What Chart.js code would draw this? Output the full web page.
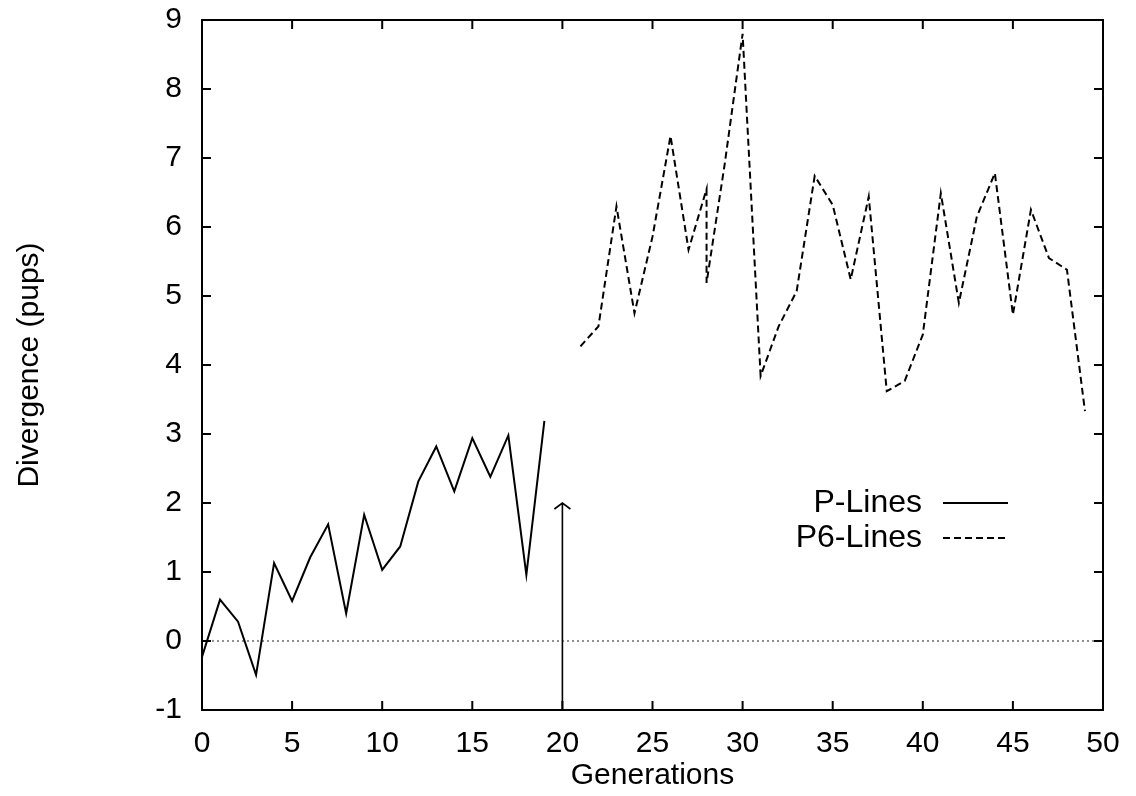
<!doctype html>
<html>
<head>
	<title>Divergence over generations</title>
	<script src="https://cdn.jsdelivr.net/npm/chart.js@4"></script>
	<style>
	body { margin: 0; background: #fff; }
	</style>
</head>
<body>
	<canvas id="canvas" width="1136" height="796"></canvas>
	<script>
		// values
		var pGen = [0, 1, 2, 3, 4, 5, 6, 7, 8, 9, 10, 11, 12, 13, 14, 15, 16, 17, 18, 19];
		var pVal = [-0.23, 0.60, 0.28, -0.49, 1.13, 0.58, 1.21, 1.69, 0.40, 1.83, 1.03, 1.37, 2.31, 2.82, 2.17, 2.94, 2.38, 2.98, 0.96, 3.19];
		var p6Gen = [21, 22, 23, 24, 25, 26, 27, 28, 28, 29, 30, 31, 32, 33, 34, 35, 36, 37, 38, 39, 40, 41, 42, 43, 44, 45, 46, 47, 48, 49];
		var p6Val = [4.27, 4.56, 6.30, 4.75, 5.86, 7.32, 5.67, 6.55, 5.19, 6.90, 8.80, 3.84, 4.56, 5.07, 6.74, 6.32, 5.24, 6.44, 3.62, 3.77, 4.44, 6.49, 4.90, 6.15, 6.78, 4.73, 6.25, 5.55, 5.38, 3.33];
		var zeroLine = [0, 50];
		var arrowGen = 20, arrowFrom = -1, arrowTo = 2;
		var legendNames = ['P-Lines', 'P6-Lines'];

		var FONT = '"Liberation Sans", Arial, sans-serif';

		function points(xs, ys) {
			return xs.map(function(x, i) { return {x: x, y: ys[i]}; });
		}

		// gnuplot-like frame, inward ticks, arrow and key
		var gnuFrame = {
			id: 'gnuFrame',
			afterDatasetsDraw: function(chart) {
				var ctx = chart.ctx, a = chart.chartArea;
				var xs = chart.scales.x, ys = chart.scales.y;
				var tl = 9;
				ctx.save();
				ctx.strokeStyle = '#000';
				ctx.lineWidth = 2;
				ctx.strokeRect(a.left, a.top, a.right - a.left, a.bottom - a.top);
				ctx.beginPath();
				xs.ticks.forEach(function(t) {
					var px = xs.getPixelForValue(t.value);
					ctx.moveTo(px, a.bottom); ctx.lineTo(px, a.bottom - tl);
					ctx.moveTo(px, a.top); ctx.lineTo(px, a.top + tl);
				});
				ys.ticks.forEach(function(t) {
					var py = ys.getPixelForValue(t.value);
					ctx.moveTo(a.left, py); ctx.lineTo(a.left + tl, py);
					ctx.moveTo(a.right, py); ctx.lineTo(a.right - tl, py);
				});
				ctx.stroke();

				// arrow at generation 20
				var ax = xs.getPixelForValue(arrowGen);
				var ay0 = ys.getPixelForValue(arrowFrom);
				var ay1 = ys.getPixelForValue(arrowTo);
				ctx.lineWidth = 1.6;
				ctx.beginPath();
				ctx.moveTo(ax, ay0); ctx.lineTo(ax, ay1);
				ctx.moveTo(ax - 8, ay1 + 6); ctx.lineTo(ax, ay1); ctx.lineTo(ax + 8, ay1 + 6);
				ctx.stroke();

				// key
				ctx.font = '32px ' + FONT;
				ctx.fillStyle = '#000';
				ctx.textAlign = 'right';
				ctx.textBaseline = 'middle';
				var keyY = [503, 538];
				chart.data.datasets.slice(0, 2).forEach(function(ds, i) {
					ctx.fillText(legendNames[i], 922, keyY[i]);
					ctx.lineWidth = ds.borderWidth;
					ctx.setLineDash(ds.borderDash || []);
					ctx.beginPath();
					ctx.moveTo(943, keyY[i]); ctx.lineTo(1008, keyY[i]);
					ctx.stroke();
				});
				ctx.restore();
			}
		};

		window.onload = function() {
			var ctx = document.getElementById('canvas').getContext('2d');
			window.myChart = new Chart(ctx, {
				type: 'line',
				data: {
					datasets: [{
						label: legendNames[0],
						data: points(pGen, pVal),
						borderColor: '#000',
						borderWidth: 2,
						pointRadius: 0,
						tension: 0
					}, {
						label: legendNames[1],
						data: points(p6Gen, p6Val),
						borderColor: '#000',
						borderWidth: 2,
						borderDash: [7, 4],
						pointRadius: 0,
						tension: 0
					}, {
						label: 'zero',
						data: points(zeroLine, [0, 0]),
						borderColor: '#222',
						borderWidth: 1,
						borderDash: [2, 3],
						pointRadius: 0
					}]
				},
				options: {
					responsive: false,
					animation: false,
					devicePixelRatio: 1,
					layout: { padding: { top: 20, right: 33, left: 0, bottom: 0 } },
					plugins: {
						legend: { display: false },
						tooltip: { enabled: false }
					},
					scales: {
						x: {
							type: 'linear',
							min: 0,
							max: 50,
							grid: { display: false, drawTicks: false },
							border: { display: false },
							ticks: {
								stepSize: 5,
								padding: 16,
								color: '#000',
								font: { family: FONT, size: 30 },
								maxRotation: 0
							},
							title: {
								display: true,
								text: 'Generations',
								color: '#000',
								font: { family: FONT, size: 30 },
								padding: { top: 0, bottom: 2 }
							},
							afterFit: function(scale) {
								scale.height = 86;
								scale.paddingLeft = 0;
								scale.paddingRight = 0;
							}
						},
						y: {
							min: -1,
							max: 9,
							grid: { display: false, drawTicks: false },
							border: { display: false },
							ticks: {
								stepSize: 1,
								padding: 20,
								color: '#000',
								font: { family: FONT, size: 30 }
							},
							title: {
								display: true,
								text: 'Divergence (pups)',
								color: '#000',
								font: { family: FONT, size: 30 },
								padding: { top: 12, bottom: 0 }
							},
							afterFit: function(scale) {
								scale.width = 202;
								scale.paddingTop = 0;
								scale.paddingBottom = 0;
							}
						}
					}
				},
				plugins: [gnuFrame]
			});
		};
	</script>
</body>
</html>
